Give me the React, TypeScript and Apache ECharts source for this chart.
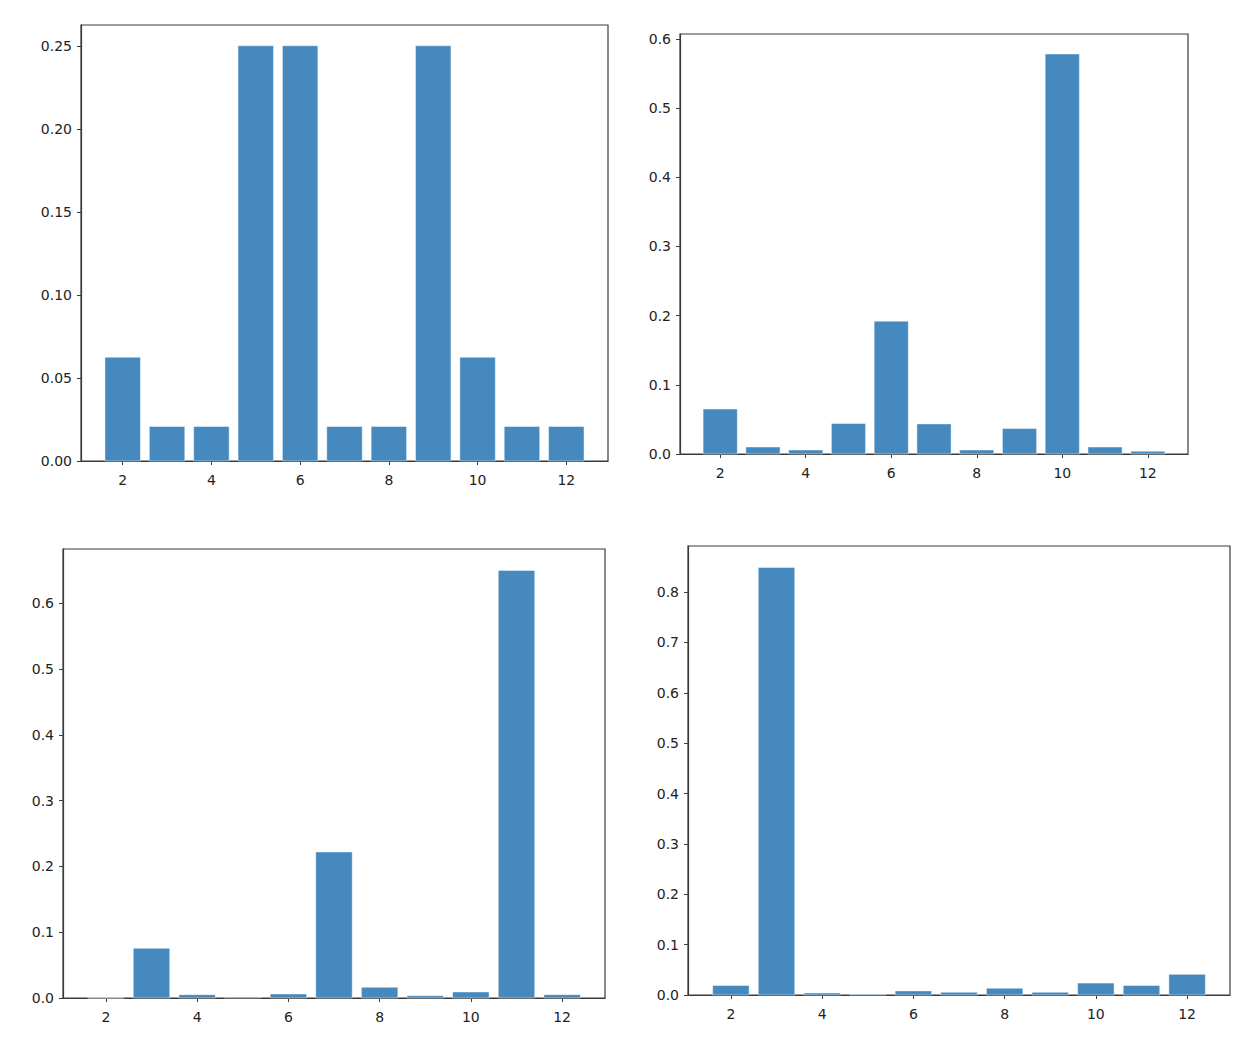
import React, { useEffect, useRef } from "react";
import * as echarts from "echarts";

const xValues = [2, 3, 4, 5, 6, 7, 8, 9, 10, 11, 12];
const xTicks = [2, 4, 6, 8, 10, 12];

const values1 = [0.0625, 0.0208, 0.0208, 0.25, 0.25, 0.0208, 0.0208, 0.25, 0.0625, 0.0208, 0.0208];
const values2 = [0.065, 0.0101, 0.0058, 0.044, 0.192, 0.0435, 0.0058, 0.0367, 0.578, 0.0101, 0.0039];
const values3 = [0, 0.0755, 0.0051, 0.0015, 0.0061, 0.222, 0.0163, 0.0036, 0.0092, 0.65, 0.0051];
const values4 = [0.0189, 0.849, 0.004, 0.0014, 0.0081, 0.0054, 0.0135, 0.0054, 0.0236, 0.0189, 0.041];

const yTicks1 = [0, 0.05, 0.1, 0.15, 0.2, 0.25];
const yTicks2 = [0, 0.1, 0.2, 0.3, 0.4, 0.5, 0.6];
const yTicks3 = [0, 0.1, 0.2, 0.3, 0.4, 0.5, 0.6];
const yTicks4 = [0, 0.1, 0.2, 0.3, 0.4, 0.5, 0.6, 0.7, 0.8];

const panels = [
  { values: values1, yTicks: yTicks1, decimals: 2, grid: { left: 81, top: 25, width: 527, height: 436 } },
  { values: values2, yTicks: yTicks2, decimals: 1, grid: { left: 680, top: 34, width: 508, height: 420 } },
  { values: values3, yTicks: yTicks3, decimals: 1, grid: { left: 63, top: 549, width: 542, height: 449 } },
  { values: values4, yTicks: yTicks4, decimals: 1, grid: { left: 688, top: 546, width: 542, height: 449 } },
];

const BAR_COLOR = "#4589be";
const AXIS_COLOR = "#3a3a3a";
const TEXT_COLOR = "#222222";

export default function App() {
  const ref = useRef<HTMLDivElement>(null);
  useEffect(() => {
    if (!ref.current) return;
    const chart = echarts.init(ref.current, null, { renderer: "svg" });
    const grids: any[] = [];
    const xAxes: any[] = [];
    const yAxes: any[] = [];
    const series: any[] = [];
    panels.forEach((p, i) => {
      const maxV = Math.max(...p.values);
      grids.push({ ...p.grid, show: true, borderColor: AXIS_COLOR, borderWidth: 1.2, backgroundColor: "transparent" });
      xAxes.push({
        type: "value",
        gridIndex: i,
        min: 1.06,
        max: 12.94,
        axisLine: { show: true, onZero: false, lineStyle: { color: AXIS_COLOR, width: 1.2 } },
        axisTick: { show: true, customValues: xTicks, length: 4, lineStyle: { color: AXIS_COLOR } },
        axisLabel: {
          customValues: xTicks,
          fontFamily: "DejaVu Sans",
          fontSize: 14,
          color: TEXT_COLOR,
          margin: 12,
        },
        splitLine: { show: false },
      });
      yAxes.push({
        type: "value",
        gridIndex: i,
        min: 0,
        max: maxV * 1.05,
        axisLine: { show: true, lineStyle: { color: AXIS_COLOR, width: 1.2 } },
        axisTick: { show: true, customValues: p.yTicks, length: 4, lineStyle: { color: AXIS_COLOR } },
        axisLabel: {
          customValues: p.yTicks,
          formatter: (v: number) => v.toFixed(p.decimals),
          fontFamily: "DejaVu Sans",
          fontSize: 14,
          color: TEXT_COLOR,
          margin: 9,
        },
        splitLine: { show: false },
      });
      series.push({
        type: "custom",
        xAxisIndex: i,
        yAxisIndex: i,
        data: xValues.map((x, k) => [x, p.values[k]]),
        encode: { x: 0, y: 1 },
        renderItem: (params: any, api: any) => {
          const x = api.value(0);
          const y = api.value(1);
          const a = api.coord([x - 0.4, y]);
          const b = api.coord([x + 0.4, 0]);
          return {
            type: "rect",
            shape: { x: a[0], y: a[1], width: b[0] - a[0], height: b[1] - a[1] },
            style: { fill: BAR_COLOR, stroke: "rgba(255,255,255,0.6)", lineWidth: 0.8 },
          };
        },
        z: 1,
      });
    });
    chart.setOption({
      animation: false,
      backgroundColor: "#ffffff",
      grid: grids,
      xAxis: xAxes,
      yAxis: yAxes,
      series,
    });
    return () => chart.dispose();
  }, []);
  return (
    <div
      ref={ref}
      style={{ position: "fixed", left: 0, top: 0, width: 1248, height: 1054, background: "#fff" }}
    />
  );
}
